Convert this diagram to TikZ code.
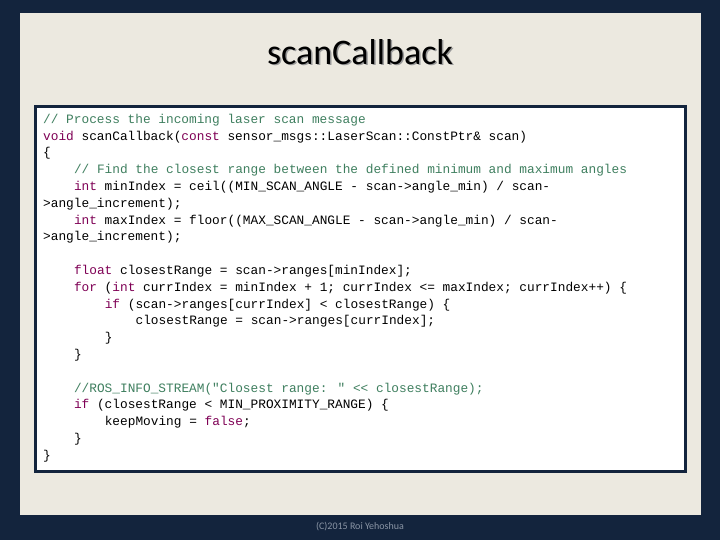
\documentclass[tikz,border=0pt]{standalone}
\usepackage{fontspec}
\setmainfont{Carlito}
\newfontfamily\codefont{Liberation Mono}
\definecolor{navy}{HTML}{13243D}
\definecolor{paper}{HTML}{ECE9E0}
\definecolor{cmt}{HTML}{3F7F5F}
\definecolor{kw}{HTML}{7F0055}
\definecolor{foot}{HTML}{8A95A5}
\newcommand{\cm}[1]{\textcolor{cmt}{#1}}
\newcommand{\kw}[1]{\textcolor{kw}{#1}}
\begin{document}
\begin{tikzpicture}[x=1pt,y=-1pt,
  code/.style={anchor=west,inner sep=0pt,font=\codefont\fontsize{12.8}{14}\selectfont}]
\fill[navy] (0,0) rectangle (720,540);
\fill[paper] (20,13) rectangle (701,515);
\draw[navy,line width=3pt,fill=white] (35,107) rectangle (685,471);
\node[font=\fontsize{36}{40}\selectfont,text=black!40,inner sep=0pt] at (361.5,53.5) {scanCallback};
\node[font=\fontsize{36}{40}\selectfont,inner sep=0pt] (title) at (360,52) {scanCallback};
\node[font=\fontsize{10}{12}\selectfont,text=foot,inner sep=0pt] (footer) at (360,527) {(C)2015 Roi Yehoshua};
\def\lh{16.8}
\def\ind{30.8}
\newcommand{\codeline}[3]{\node[code] (l#1) at ({43+#2*\ind},{120+(#1-1)*\lh}) {#3};}
\codeline{1}{0}{\cm{// Process the incoming laser scan message}}
\codeline{2}{0}{\kw{void} scanCallback(\kw{const} sensor\_msgs::LaserScan::ConstPtr\& scan)}
\codeline{3}{0}{\{}
\codeline{4}{1}{\cm{// Find the closest range between the defined minimum and maximum angles}}
\codeline{5}{1}{\kw{int} minIndex = ceil((MIN\_SCAN\_ANGLE - scan->angle\_min) / scan-}
\codeline{6}{0}{>angle\_increment);}
\codeline{7}{1}{\kw{int} maxIndex = floor((MAX\_SCAN\_ANGLE - scan->angle\_min) / scan-}
\codeline{8}{0}{>angle\_increment);}
\codeline{10}{1}{\kw{float} closestRange = scan->ranges[minIndex];}
\codeline{11}{1}{\kw{for} (\kw{int} currIndex = minIndex + 1; currIndex <= maxIndex; currIndex++) \{}
\codeline{12}{2}{\kw{if} (scan->ranges[currIndex] < closestRange) \{}
\codeline{13}{3}{closestRange = scan->ranges[currIndex];}
\codeline{14}{2}{\}}
\codeline{15}{1}{\}}
\codeline{17}{1}{\cm{//ROS\_INFO\_STREAM("Closest range: " << closestRange);}}
\codeline{18}{1}{\kw{if} (closestRange < MIN\_PROXIMITY\_RANGE) \{}
\codeline{19}{2}{keepMoving = \kw{false};}
\codeline{20}{1}{\}}
\codeline{21}{0}{\}}
\end{tikzpicture}
\end{document}
